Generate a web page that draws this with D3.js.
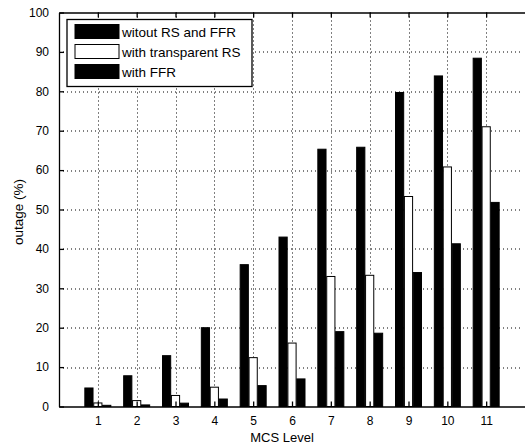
<!DOCTYPE html>
<html>
<head>
<meta charset="utf-8">
<script src="https://cdn.jsdelivr.net/npm/d3@7"></script>
<style>
  body { margin: 0; background: #fff; }
  svg { display: block; font-family: "Liberation Sans", Arial, sans-serif; }
</style>
</head>
<body>
<div id="chart"></div>
<script>
// MCS levels on the x axis
var levels = [1, 2, 3, 4, 5, 6, 7, 8, 9, 10, 11]
var seriesNames = ['witout RS and FFR', 'with transparent RS', 'with FFR']

// outage values in %
var withoutRsFfr = [4.7, 7.8, 12.9, 20.0, 36.0, 43.0, 65.3, 65.8, 79.7, 83.9, 88.4]
var withTransparentRs = [0.9, 1.5, 2.8, 4.9, 12.4, 16.1, 33.0, 33.3, 53.3, 60.8, 71.0]
var withFfr = [0.3, 0.4, 0.85, 1.9, 5.3, 7.0, 19.0, 18.6, 34.0, 41.3, 51.8]

var yTicks = [0, 10, 20, 30, 40, 50, 60, 70, 80, 90, 100]

var seriesValues = [withoutRsFfr, withTransparentRs, withFfr]
var seriesFill = ['#000', '#fff', '#000']

var W = 525, H = 445
var margin = { left: 59, right: 0, top: 12.5, bottom: 38.5 }
var width = W - margin.left - margin.right
var height = H - margin.top - margin.bottom

var svg = d3.select('#chart')
  .append('svg')
  .attr('width', W)
  .attr('height', H)

var g = svg.append('g')
  .attr('transform', `translate(${margin.left},${margin.top})`)

// scales
var x = d3.scaleLinear().domain([0, 12]).range([0, width])
var y = d3.scaleLinear().domain([0, 100]).range([height, 0])
var xSub = d3.scaleBand().domain(d3.range(3)).range([-13, 13]).paddingInner(0.08)

// dotted grid
g.append('g').selectAll('line.vg')
  .data(levels)
  .join('line')
  .attr('x1', d => Math.round(x(d)) + 0.5)
  .attr('x2', d => Math.round(x(d)) + 0.5)
  .attr('y1', 0).attr('y2', height)
  .attr('stroke', '#000').attr('stroke-width', 1)
  .attr('stroke-dasharray', '1,3')

g.append('g').selectAll('line.hg')
  .data(yTicks.slice(1, -1))
  .join('line')
  .attr('x1', 0).attr('x2', width - 3)
  .attr('y1', d => Math.round(y(d)) + 0.5)
  .attr('y2', d => Math.round(y(d)) + 0.5)
  .attr('stroke', '#000').attr('stroke-width', 1)
  .attr('stroke-dasharray', '1,3')

// bars
var rows = []
levels.forEach((lv, i) => {
  seriesValues.forEach((vals, s) => {
    rows.push({ level: lv, s: s, value: vals[i] })
  })
})

g.append('g').selectAll('rect')
  .data(rows)
  .join('rect')
  .attr('x', d => x(d.level) + xSub(d.s))
  .attr('width', xSub.bandwidth())
  .attr('y', d => y(d.value))
  .attr('height', d => height - y(d.value))
  .attr('fill', d => seriesFill[d.s])
  .attr('stroke', '#000')
  .attr('stroke-width', 1)

// axes, matlab style: ticks inside (right edge is cut off in the picture)
var xAxis = d3.axisBottom(x).tickValues(levels).tickSize(-5).tickSizeOuter(0).tickPadding(10)
var xTop = d3.axisTop(x).tickValues(levels).tickSize(-5).tickSizeOuter(0).tickFormat('')
var yAxis = d3.axisLeft(y).tickValues(yTicks).tickSize(-5).tickSizeOuter(0).tickPadding(10)

g.append('g').attr('class', 'axis')
  .attr('transform', `translate(0,${height})`)
  .call(xAxis)
g.append('g').attr('class', 'axis')
  .call(xTop)
g.append('g').attr('class', 'axis')
  .call(yAxis)

g.selectAll('.axis path, .axis line').attr('stroke', '#000').attr('stroke-width', 1.3)
g.selectAll('.axis text')
  .attr('fill', '#000')
  .style('font-size', '12px')
  .style('font-family', '"Liberation Sans", Arial, sans-serif')

// axis titles
svg.append('text')
  .attr('x', margin.left + x(6) - 10)
  .attr('y', 441.5)
  .attr('text-anchor', 'middle')
  .style('font-size', '13px')
  .text('MCS Level')

svg.append('text')
  .attr('transform', 'translate(23,212) rotate(-90)')
  .attr('text-anchor', 'middle')
  .style('font-size', '13.5px')
  .text('outage (%)')

// legend
var legend = svg.append('g').attr('transform', 'translate(67,19.5)')
legend.append('rect')
  .attr('width', 185).attr('height', 67)
  .attr('fill', '#fff').attr('stroke', '#000').attr('stroke-width', 1.3)

var items = legend.selectAll('g.item')
  .data(seriesNames)
  .join('g')
  .attr('transform', (d, i) => `translate(8,${5 + i * 20})`)

items.append('rect')
  .attr('width', 44).attr('height', 14)
  .attr('fill', (d, i) => seriesFill[i])
  .attr('stroke', '#000')

items.append('text')
  .attr('x', 47).attr('y', 12)
  .style('font-size', '13.5px')
  .text(d => d)
</script>
</body>
</html>
